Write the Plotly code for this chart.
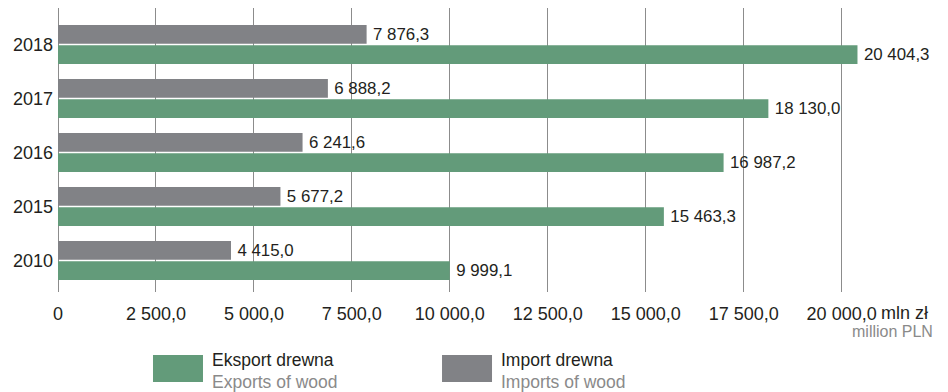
import plotly.graph_objects as go

# data
years = ['2010', '2015', '2016', '2017', '2018']
export_values = [9999.1, 15463.3, 16987.2, 18130.0, 20404.3]
import_values = [4415.0, 5677.2, 6241.6, 6888.2, 7876.3]
tick_values = [0, 2500, 5000, 7500, 10000, 12500, 15000, 17500, 20000]
tick_labels = ['0', '2 500,0', '5 000,0', '7 500,0', '10 000,0', '12 500,0',
               '15 000,0', '17 500,0', '20 000,0']

GREEN = '#639b7a'
GREY = '#818286'
TEXT = '#231f20'
LIGHT = '#8a8a8a'
FONT = 'Liberation Sans, Arial, sans-serif'

#bars - first trace sits lower inside each group
export_trace = go.Bar(y=years, x=export_values, orientation='h',
                      marker=dict(color=GREEN, line_width=0),
                      texttemplate='\u2009%{x:,.1f}', textposition='outside',
                      textfont=dict(size=18, color=TEXT),
                      cliponaxis=False, name='Eksport drewna')
import_trace = go.Bar(y=years, x=import_values, orientation='h',
                      marker=dict(color=GREY, line_width=0),
                      texttemplate='\u2009%{x:,.1f}', textposition='outside',
                      textfont=dict(size=18, color=TEXT),
                      cliponaxis=False, name='Import drewna')

fig = go.Figure(data=[export_trace, import_trace])

#page body has an 8px margin, so the figure is a bit smaller than the window
fig.update_layout(
    width=940, height=384,
    margin=dict(l=50, r=28, t=0, b=100),
    barmode='group', bargap=0.246, bargroupgap=0.08,
    separators=', ',
    showlegend=False,
    paper_bgcolor='white', plot_bgcolor='white',
    font=dict(family=FONT, size=18, color=TEXT),
    xaxis=dict(range=[0, 22000], tickvals=tick_values, ticktext=tick_labels,
               showgrid=True, gridcolor='#8c8c8c', gridwidth=1,
               zeroline=True, zerolinecolor='#8c8c8c', zerolinewidth=1,
               showline=False, ticks='', automargin=False,
               ticklabelstandoff=9, tickfont=dict(size=18, color=TEXT)),
    yaxis=dict(type='category', categoryorder='array', categoryarray=years,
               range=[-0.583, 4.676], showgrid=False, zeroline=False,
               showline=False, ticks='', automargin=False,
               ticklabelstandoff=4, tickfont=dict(size=18, color=TEXT)),
)

#unit labels next to last tick
fig.add_annotation(x=20000, y=0, xref='x', yref='paper', yanchor='middle',
                   xanchor='left', xshift=37, yshift=-21, showarrow=False,
                   text='mln zł', font=dict(size=18, color=TEXT))
fig.add_annotation(x=1, y=0, xref='paper', yref='paper', yanchor='middle',
                   xanchor='right', xshift=15, yshift=-39, showarrow=False,
                   text='million PLN', font=dict(size=16, color=LIGHT))

#custom legend
legend_items = [(GREEN, 'Eksport drewna', 'Exports of wood', 0.1102),
                (GREY, 'Import drewna', 'Imports of wood', 0.4455)]
for colour, pl, en, x0 in legend_items:
    fig.add_shape(type='rect', xref='paper', yref='paper',
                  x0=x0, x1=x0 + 0.058, y0=-0.317, y1=-0.2218,
                  fillcolor=colour, line_width=0)
    fig.add_annotation(x=x0 + 0.066, y=-0.2394, xref='paper', yref='paper',
                       xanchor='left', yanchor='middle', showarrow=False,
                       text=pl, font=dict(size=17.5, color=TEXT))
    fig.add_annotation(x=x0 + 0.066, y=-0.3158, xref='paper', yref='paper',
                       xanchor='left', yanchor='middle', showarrow=False,
                       text=en, font=dict(size=17.5, color=LIGHT))

fig.write_html('out.html')
